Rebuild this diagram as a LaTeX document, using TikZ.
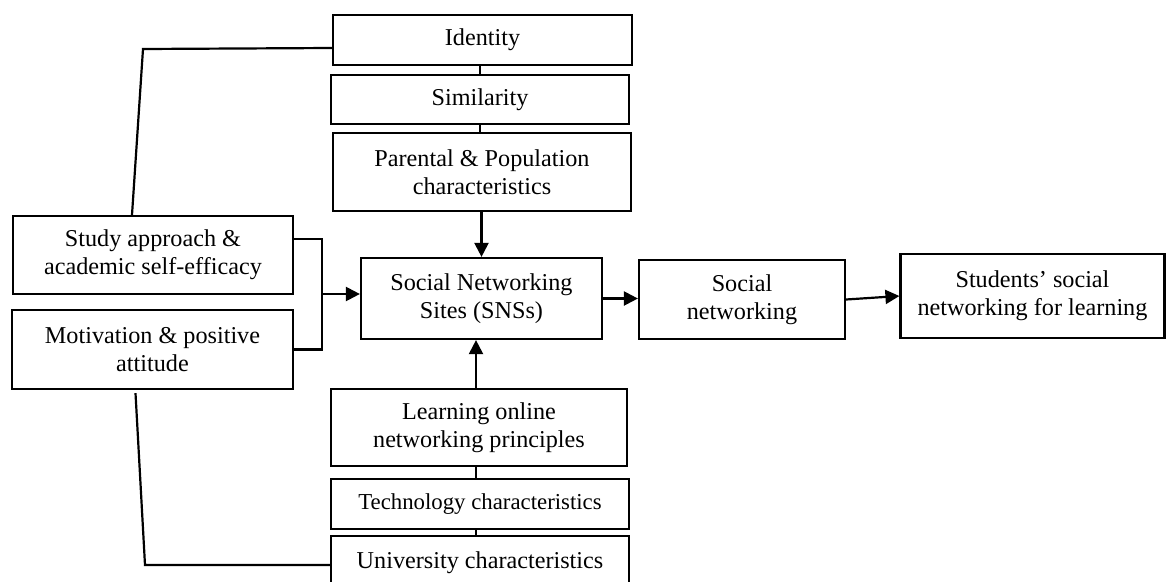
\documentclass[tikz,border=0pt]{standalone}
\usepackage{fontspec}
\setmainfont{Liberation Serif}
\usetikzlibrary{arrows.meta,calc}
\begin{document}
\begin{tikzpicture}[x=1pt,y=-1pt,
  box/.style={draw,line width=2.2pt,inner sep=0pt,align=center,
    font=\fontsize{24.2}{28}\selectfont},
  link/.style={line width=2.2pt},
  arr/.style={line width=2.2pt,-{Triangle[length=14pt,width=14pt]}}]
\useasboundingbox (0,0) rectangle (1167,581);
\clip (0,0) rectangle (1167,581);
\node[box,minimum width=299pt,minimum height=50pt] (id) at (482.5,40) {Identity};
\node[box,minimum width=298pt,minimum height=49pt] (sim) at (480,99.5) {Similarity};
\node[box,minimum width=298pt,minimum height=78pt] (par) at (482,172) {Parental \& Population\\characteristics};
\node[box,minimum width=241pt,minimum height=81pt] (sns) at (481.5,298.5) {Social Networking\\Sites (SNSs)};
\node[box,minimum width=206pt,minimum height=79pt] (sn) at (742,299.5) {Social\\networking};
\node[box,minimum width=264pt,minimum height=84pt] (st) at (1032.5,296) {Students’ social\\networking for learning};
\node[box,minimum width=280pt,minimum height=78pt] (study) at (153,255) {Study approach \&\\academic self-efficacy};
\node[box,minimum width=281pt,minimum height=79pt] (mot) at (152.5,349.5) {Motivation \& positive\\attitude};
\node[box,minimum width=296pt,minimum height=77pt] (learn) at (479,427.5) {Learning online\\networking principles};
\node[box,minimum width=298pt,minimum height=50pt,font=\fontsize{22.8}{26}\selectfont] (tech) at (480,504) {Technology characteristics};
\node[box,minimum width=298pt,minimum height=54pt] (univ) at (480,563) {University characteristics};
% vertical links in the top column
\draw[link] (sim.north) -- (sim.north |- id.south);
\draw[link] (sim.south) -- (sim.south |- par.north);
\draw[arr] (par.south -| sns.north) -- (sns.north);
% bottom column
\coordinate (bx) at (476,0);
\draw[arr] (learn.north -| bx) -- (sns.south -| bx);
\draw[link] (learn.south -| bx) -- (tech.north -| bx);
\draw[link] (tech.south -| bx) -- (univ.north -| bx);
% horizontal chain
\draw[arr] (sns.east) -- (sns.east -| sn.west);
\draw[arr] (sn.east) -- (st.west);
% left bracket
\coordinate (j) at (322,294);
\draw[link] ($(study.east)+(0,-16)$) -| (j) |- (mot.east);
\draw[arr] (j) -- (j -| sns.west);
% long side links
\coordinate (ca) at (143,49);
\coordinate (cb) at (145,565);
\draw[link] ($(id.west)+(0,8)$) -- (ca) -- ($(study.north)+(-21,0)$);
\draw[link] ($(mot.south)+(-17,3)$) -- (cb) -- (cb -| univ.west);
\end{tikzpicture}
\end{document}
